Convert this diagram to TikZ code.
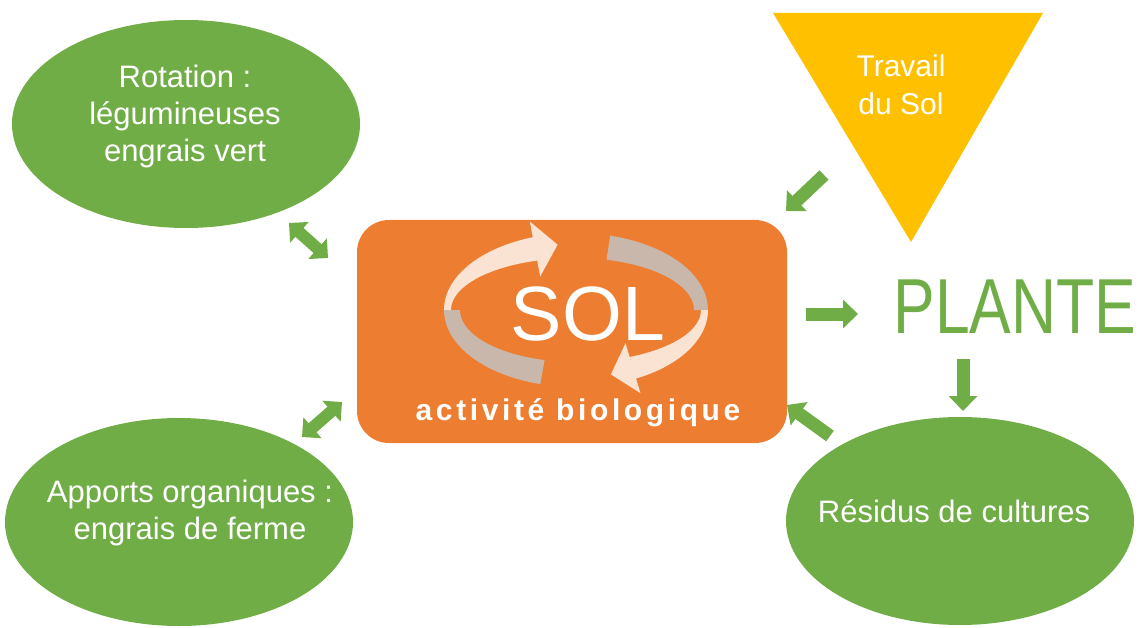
\documentclass[tikz,border=0pt]{standalone}
\usepackage{fontspec}
\setmainfont{Liberation Sans}
\usetikzlibrary{shapes.geometric,arrows.meta}

\definecolor{vert}{HTML}{70AD47}
\definecolor{solorange}{HTML}{ED7D31}
\definecolor{jaune}{HTML}{FFC000}
\definecolor{peche}{HTML}{FAE3D3}
\definecolor{gris}{HTML}{C8B7AA}

\tikzset{
  bulle/.style={ellipse, fill=vert, minimum width=348pt, minimum height=208pt, inner sep=0pt},
  blanc/.style={text=white, align=center, inner sep=0pt, font=\fontsize{31}{37}\selectfont},
  fleche/.style={draw=vert, line width=13pt, -{Triangle[width=28pt,length=15pt]}},
  double fleche/.style={draw=vert, line width=12pt,
    {Triangle[width=27pt,length=14pt]}-{Triangle[width=27pt,length=14pt]}}
}

% bande du cycle entre deux angles, #3 = demi-axe horizontal interieur
\newcommand{\ruban}[4]{%
  \fill[#4] plot[domain=#1:#2, samples=30, variable=\t] ({576+132*cos(\t)},{310+77*sin(\t)})
    -- plot[domain=#2:#1, samples=30, variable=\t] ({576+#3*cos(\t)},{310+52*sin(\t)}) -- cycle;}

\begin{document}
\begin{tikzpicture}[yscale=-1, x=1pt, y=1pt]
    \useasboundingbox (0,0) rectangle (1142,628);
    \node[bulle] (rotation) at (186,124) {};
    \node[bulle] (apports) at (179,522) {};
    \node[bulle] (residus) at (960,521) {};
    \node[blanc] (rotationtxt) at (185,116) {Rotation :\\légumineuses\\engrais vert};
    \node[blanc] (apportstxt) at (190,513) {Apports organiques :\\engrais de ferme};
    \node[blanc, anchor=base] (residustxt) at (954,522) {Résidus de cultures};
    \fill[jaune] (773,13) -- (1043,13) -- (911,242) -- cycle;
    \node[blanc, font=\fontsize{30}{38}\selectfont] (travail) at (901,85) {Travail\\du Sol};
    \node[fill=solorange, rounded corners=32pt, minimum width=430pt, minimum height=223pt]
      (sol) at (572,331.5) {};
    \ruban{105.7}{180}{116}{gris}
    \ruban{285}{360}{118}{gris}
    \ruban{180}{252}{125}{peche}
    \ruban{360}{424.4}{125}{peche}
    \fill[peche] (529.8,221.5) -- (557.6,244.7) -- (540.2,276.5) -- cycle;
    \fill[peche] (625.5,343.2) -- (610.9,374.4) -- (640.5,393.2) -- cycle;
    \node[text=white, anchor=base, inner sep=0pt, font=\fontsize{77}{77}\selectfont]
      (soltxt) at (588,340) {SOL};
    \node[text=white, anchor=base, inner sep=0pt,
      font=\bfseries\fontsize{30}{30}\selectfont\addfontfeatures{LetterSpace=12}]
      (activite) at (578,420) {activité biologique};
    \node[text=vert, anchor=base, inner sep=0pt, xscale=0.8, font=\fontsize{78}{78}\selectfont]
      (plante) at (1015,333) {PLANTE};
    \coordinate (f1a) at (289,223); \coordinate (f1b) at (328,258);
    \coordinate (f2a) at (302,437); \coordinate (f2b) at (342,402);
    \coordinate (f3a) at (824,175); \coordinate (f3b) at (786,211);
    \coordinate (f4a) at (806,314); \coordinate (f4b) at (858,314);
    \coordinate (f5a) at (963,359); \coordinate (f5b) at (963,411);
    \coordinate (f6a) at (830,436); \coordinate (f6b) at (787,405);
    \draw[double fleche] (f1a) -- (f1b);
    \draw[double fleche] (f2a) -- (f2b);
    \draw[fleche] (f3a) -- (f3b);
    \draw[fleche] (f4a) -- (f4b);
    \draw[fleche] (f5a) -- (f5b);
    \draw[fleche] (f6a) -- (f6b);
  \end{tikzpicture}
\end{document}
